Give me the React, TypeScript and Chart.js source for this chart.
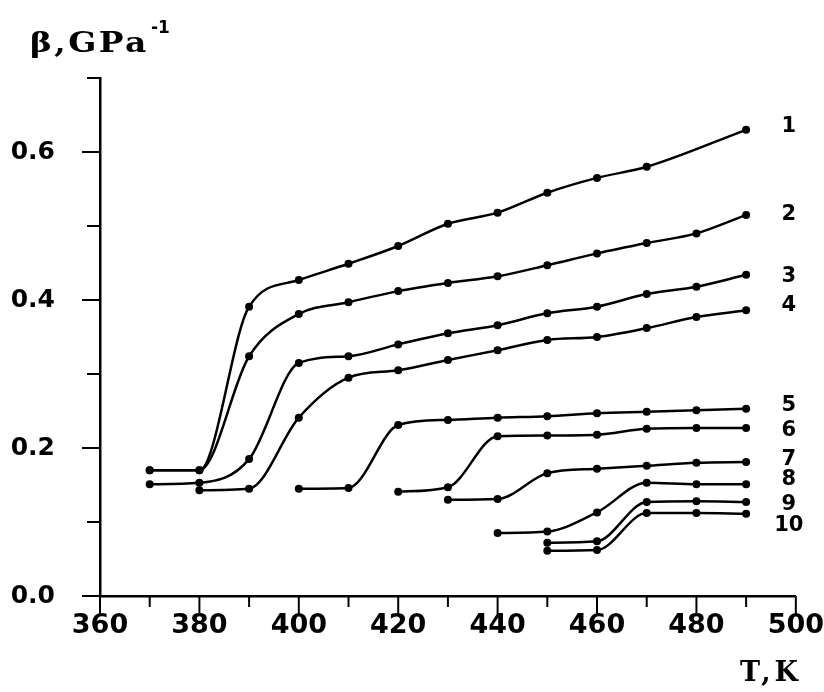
import React, { useEffect, useRef } from "react";
import { Chart, registerables } from "chart.js";

Chart.register(...registerables);

// Temperature, K
const temps = [370, 380, 390, 400, 410, 420, 430, 440, 450, 460, 470, 480, 490];

// Compressibility beta, GPa^-1
const curve1 = [0.17, 0.17, 0.391, 0.427, 0.449, 0.473, 0.503, 0.518, 0.545, 0.565, 0.58, null, 0.63];
const curve2 = [0.17, 0.17, 0.324, 0.381, 0.397, 0.412, 0.423, 0.432, 0.447, 0.463, 0.477, 0.49, 0.515];
const curve3 = [0.151, 0.153, 0.185, 0.315, 0.324, 0.34, 0.355, 0.366, 0.382, 0.391, 0.408, 0.418, 0.434];
const curve4 = [null, 0.143, 0.145, 0.241, 0.295, 0.305, 0.319, 0.332, 0.346, 0.35, 0.362, 0.377, 0.386];
const curve5 = [null, null, null, 0.145, 0.146, 0.231, 0.238, 0.241, 0.243, 0.247, 0.249, 0.251, 0.253];
const curve6 = [null, null, null, null, null, 0.141, 0.147, 0.216, 0.217, 0.218, 0.226, 0.227, 0.227];
const curve7 = [null, null, null, null, null, null, 0.13, 0.131, 0.166, 0.172, 0.176, 0.18, 0.181];
const curve8 = [null, null, null, null, null, null, null, 0.085, 0.087, 0.113, 0.153, 0.151, 0.151];
const curve9 = [null, null, null, null, null, null, null, null, 0.072, 0.074, 0.127, 0.128, 0.127];
const curve10 = [null, null, null, null, null, null, null, null, 0.061, 0.062, 0.112, 0.112, 0.111];

const curves = [curve1, curve2, curve3, curve4, curve5, curve6, curve7, curve8, curve9, curve10];

// Curve number labels at the right end (value coordinates)
const curveNames = ["1", "2", "3", "4", "5", "6", "7", "8", "9", "10"];
const curveNameY = [0.634, 0.516, 0.432, 0.393, 0.258, 0.223, 0.185, 0.158, 0.123, 0.095];
const curveNameX = 498.6;

const xMin = 360;
const xMax = 500;
const yMin = 0;
const yMax = 0.7;

const yTitle = "\u03B2,GPa";
const yTitleSup = "-1";
const xTitle = "T,K";

const decorPlugin = {
  id: "decor",
  afterDraw(chart: any) {
    const ctx = chart.ctx;
    const xs = chart.scales.x;
    const ys = chart.scales.y;
    const area = chart.chartArea;
    ctx.save();
    ctx.strokeStyle = "#000";
    ctx.lineWidth = 2;
    ctx.lineCap = "butt";
    // y ticks
    ys.ticks.forEach((t: any) => {
      const major = Math.round(t.value * 10) % 2 === 0;
      const py = ys.getPixelForValue(t.value);
      const len = major ? 18 : 13;
      ctx.beginPath();
      ctx.moveTo(area.left - len, py);
      ctx.lineTo(area.left, py);
      ctx.stroke();
    });
    // x ticks
    xs.ticks.forEach((t: any) => {
      const major = Math.round(t.value) % 20 === 0;
      const px = xs.getPixelForValue(t.value);
      const len = major ? 18 : 11;
      ctx.beginPath();
      ctx.moveTo(px, area.bottom);
      ctx.lineTo(px, area.bottom + len);
      ctx.stroke();
    });
    // curve numbers
    ctx.fillStyle = "#000";
    ctx.font = "bold 21px 'DejaVu Sans'";
    ctx.textAlign = "center";
    ctx.textBaseline = "middle";
    curveNames.forEach((n, i) => {
      ctx.fillText(n, xs.getPixelForValue(curveNameX), ys.getPixelForValue(curveNameY[i]));
    });
    // axis titles
    ctx.textAlign = "left";
    ctx.textBaseline = "alphabetic";
    ctx.save();
    ctx.translate(30, 52);
    ctx.scale(1.22, 1);
    ctx.font = "bold 27px 'DejaVu Serif'";
    (ctx as any).letterSpacing = "2px";
    ctx.fillText(yTitle, 0, 0);
    const w = ctx.measureText(yTitle).width * 1.22;
    ctx.restore();
    ctx.font = "bold 17px 'DejaVu Sans'";
    (ctx as any).letterSpacing = "0px";
    ctx.fillText(yTitleSup, 30 + w + 2, 33);
    ctx.font = "bold 27px 'DejaVu Serif'";
    (ctx as any).letterSpacing = "4px";
    ctx.fillText(xTitle, 740, 681);
    ctx.restore();
  },
};

export default function App() {
  const ref = useRef<HTMLCanvasElement | null>(null);
  useEffect(() => {
    if (!ref.current) return;
    const datasets = curves.map((c, i) => ({
      label: curveNames[i],
      data: c.map((v, j) => ({ x: temps[j], y: v })),
      borderColor: "#000",
      backgroundColor: "#000",
      borderWidth: 2.5,
      pointRadius: 4,
      pointHoverRadius: 4,
      pointBackgroundColor: "#000",
      pointBorderWidth: 0,
      cubicInterpolationMode: "monotone" as const,
      spanGaps: true,
      fill: false,
    }));
    const chart = new Chart(ref.current, {
      type: "line",
      data: { datasets },
      plugins: [decorPlugin],
      options: {
        animation: false,
        responsive: false,
        maintainAspectRatio: false,
        layout: { padding: { top: 78, right: 28, left: 0, bottom: 0 } },
        plugins: {
          legend: { display: false },
          tooltip: { enabled: false },
          title: { display: false },
        },
        scales: {
          x: {
            type: "linear",
            min: xMin,
            max: xMax,
            grid: {
              drawOnChartArea: false,
              drawTicks: true,
              tickLength: 14,
              tickColor: "rgba(0,0,0,0)",
            },
            border: { display: true, color: "#000", width: 2.5 },
            ticks: {
              stepSize: 10,
              autoSkip: false,
              maxRotation: 0,
              padding: 0,
              color: "#000",
              font: { family: "'DejaVu Sans'", size: 27, weight: "bold" },
              callback: (v: any) => (Math.round(v) % 20 === 0 ? String(v) : ""),
            },
            afterFit: (s: any) => {
              s.height = 96;
            },
          },
          y: {
            type: "linear",
            min: yMin,
            max: yMax,
            grid: {
              drawOnChartArea: false,
              drawTicks: true,
              tickLength: 18,
              tickColor: "rgba(0,0,0,0)",
            },
            border: { display: true, color: "#000", width: 2.5 },
            ticks: {
              stepSize: 0.1,
              autoSkip: false,
              padding: 27,
              color: "#000",
              font: { family: "'DejaVu Sans'", size: 25, weight: "bold" },
              callback: (v: any) =>
                Math.round(v * 10) % 2 === 0 ? Number(v).toFixed(1) : "",
            },
            afterFit: (s: any) => {
              s.width = 100;
            },
          },
        },
      },
    });
    return () => chart.destroy();
  }, []);
  return (
    <div style={{ position: "fixed", left: 0, top: 0, width: 824, height: 692, background: "#fff" }}>
      <canvas ref={ref} width={824} height={692} style={{ width: 824, height: 692 }} />
    </div>
  );
}
